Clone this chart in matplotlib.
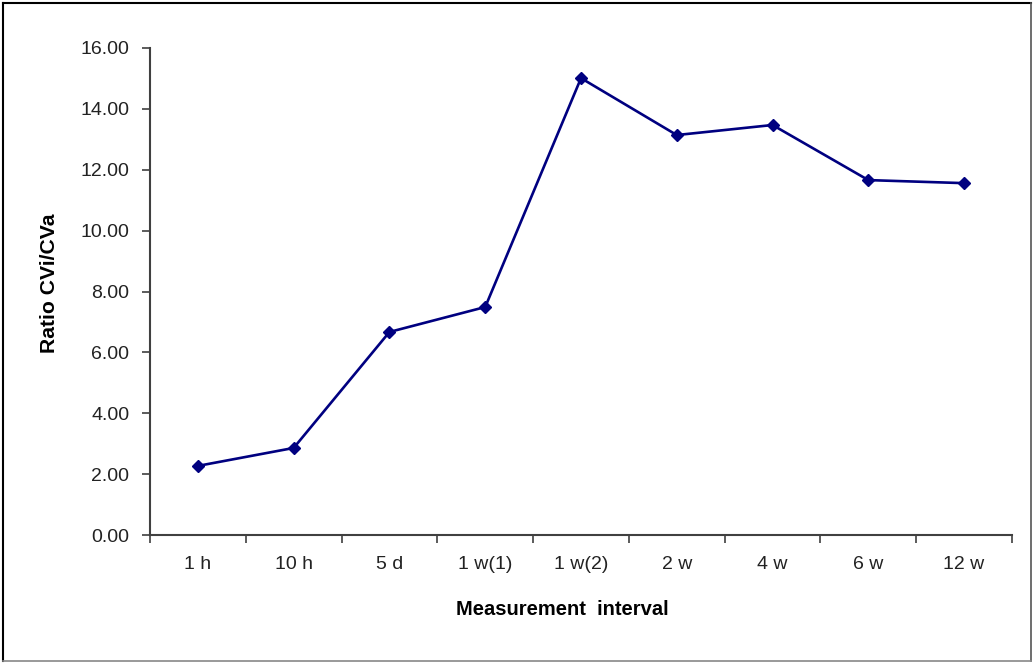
import matplotlib
matplotlib.use("Agg")
import matplotlib.pyplot as plt
from matplotlib.lines import Line2D
import numpy as np

categories = ["1 h", "10 h", "5 d", "1 w(1)", "1 w(2)", "2 w", "4 w", "6 w", "12 w"]
ratio_values = [2.27, 2.86, 6.67, 7.49, 15.01, 13.14, 13.47, 11.66, 11.56]
y_ticks = [0, 2, 4, 6, 8, 10, 12, 14, 16]

plt.rcParams['font.family'] = ['Liberation Sans', 'DejaVu Sans']

W, H = 1035, 663
fig = plt.figure(figsize=(W / 100, H / 100), dpi=100)
ax = fig.add_axes([150 / W, (H - 535) / H, (1012 - 150) / W, (535 - 48) / H])

x = np.arange(len(categories))
ax.plot(x, ratio_values, color="#000080", lw=1.9, marker="D", ms=6.5,
        markerfacecolor="#000080", markeredgecolor="#000080", clip_on=False)

tc = "#222222"
ax.set_xlim(-0.5, len(categories) - 0.5)
ax.set_ylim(0, 16)
ax.set_yticks(y_ticks)
ax.set_yticklabels([f"{v:.2f}" for v in y_ticks], fontsize=14, color=tc)
ax.set_xticks(x)
ax.set_xticklabels(categories, fontsize=14, color=tc)
ax.set_xticks(np.arange(-0.5, len(categories)), minor=True)
ax.tick_params(axis="x", which="major", length=0, pad=15)
ax.tick_params(axis="x", which="minor", length=6, width=1.2, color="#404040", direction="out")
ax.tick_params(axis="y", length=6, width=1.2, color="#404040", direction="out", pad=9)

for s in ["top", "right"]:
    ax.spines[s].set_visible(False)
for s in ["left", "bottom"]:
    ax.spines[s].set_color("#404040")
    ax.spines[s].set_linewidth(1.5)

ax.set_xlabel("Measurement  interval", fontsize=14.5, fontweight="bold")
ax.xaxis.set_label_coords((562 - 150) / 862, -0.134)
ax.set_ylabel("Ratio CVi/CVa", fontsize=15.2, fontweight="bold")
ax.yaxis.set_label_coords(-0.106, (535 - 283) / 487)

# outer frame
def fl(x0, y0, x1, y1, c, lw):
    fig.add_artist(Line2D([x0 / W, x1 / W], [1 - y0 / H, 1 - y1 / H], color=c, lw=lw,
                          transform=fig.transFigure))
fl(3, 3, 1031, 3, "#000000", 1.5)
fl(3, 3, 3, 661, "#000000", 1.5)
fl(1031, 3, 1031, 661, "#555555", 1.2)
fl(3, 661, 1031, 661, "#888888", 1.2)

fig.savefig("out.png", dpi=100)
